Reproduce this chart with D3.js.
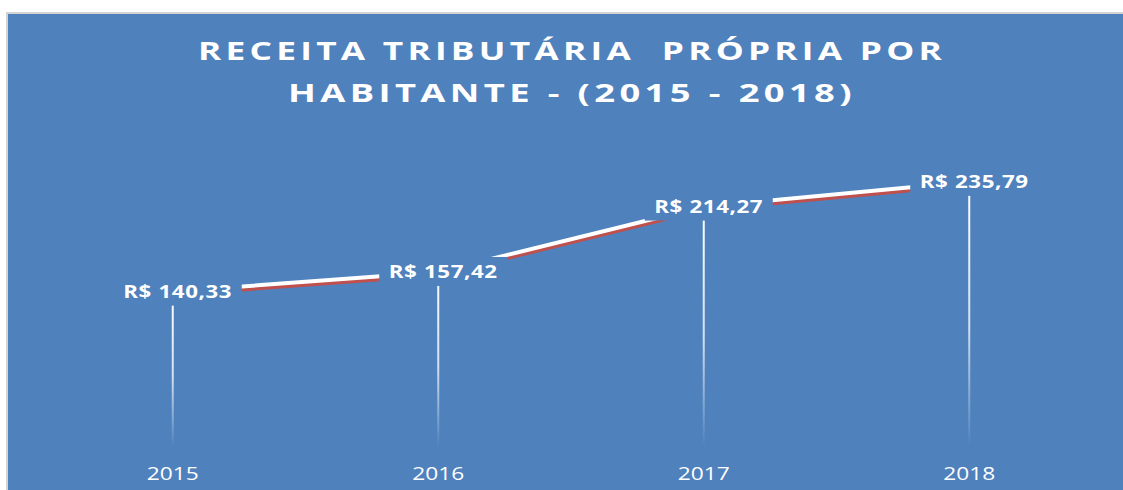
<!DOCTYPE html>
<html>
<head>
<meta charset="utf-8">
<script src="https://cdn.jsdelivr.net/npm/d3@7"></script>
<style>
  body { margin: 0; background: #fff; }
  svg { display: block; }
</style>
</head>
<body>
<div id="chart"></div>
<script>
// data
var years = ["2015", "2016", "2017", "2018"];
var values = [140.33, 157.42, 214.27, 235.79];
var valueLabels = ["R$ 140,33", "R$ 157,42", "R$ 214,27", "R$ 235,79"];
var titleLines = ["RECEITA TRIBUTÁRIA  PRÓPRIA POR", "HABITANTE - (2015 - 2018)"];

var W = 1123, H = 490;
var bg = "#4f81bd";

var svg = d3.select("#chart")
    .append("svg")
    .attr("width", W)
    .attr("height", H);

// chart area with thin grey frame
svg.append("rect")
    .attr("x", 7).attr("y", 13)
    .attr("width", W).attr("height", H)
    .attr("fill", bg)
    .attr("stroke", "#d4d4d4")
    .attr("stroke-width", 2);

// title (the original is stretched wide, so fit glyphs + spacing)
svg.selectAll(".title")
    .data(titleLines)
    .enter().append("text")
    .attr("class", "title")
    .attr("x", 572)
    .attr("y", function (d, i) { return 60 + i * 42; })
    .attr("text-anchor", "middle")
    .attr("textLength", function (d, i) { return i == 0 ? 748 : 568; })
    .attr("lengthAdjust", "spacingAndGlyphs")
    .style("white-space", "pre")
    .style("font-family", "'Open Sans', sans-serif")
    .style("font-weight", "bold")
    .style("font-size", "25px")
    .style("letter-spacing", "3px")
    .style("fill", "#fff")
    .text(function (d) { return d; });

// scales
var x = d3.scaleBand().domain(years).range([40, 1102]);
var y = d3.scaleLinear().domain([0, 300]).range([453, 108]);

var cx = function (d, i) { return x(years[i]) + x.bandwidth() / 2; };

var defs = svg.append("defs");
var grad = defs.append("linearGradient")
    .attr("id", "dropfade")
    .attr("gradientUnits", "objectBoundingBox")
    .attr("x1", 0).attr("y1", 0).attr("x2", 0).attr("y2", 1);
grad.append("stop").attr("offset", "0%").attr("stop-color", "#fff").attr("stop-opacity", 1);
grad.append("stop").attr("offset", "55%").attr("stop-color", "#fff").attr("stop-opacity", 0.75);
grad.append("stop").attr("offset", "100%").attr("stop-color", "#fff").attr("stop-opacity", 0);

// drop lines (thin rects so the gradient works)
svg.selectAll(".drop")
    .data(values)
    .enter().append("rect")
    .attr("class", "drop")
    .attr("x", function (d, i) { return cx(d, i) - 1; })
    .attr("y", function (d) { return y(d); })
    .attr("width", 2)
    .attr("height", function (d) { return y(0) - 6 - y(d); })
    .attr("fill", "url(#dropfade)");

// line: red shadow under white stroke
var line = d3.line()
    .x(function (d, i) { return cx(d, i); })
    .y(function (d) { return y(d); });

svg.append("path")
    .datum(values)
    .attr("d", line)
    .attr("transform", "translate(0,3)")
    .attr("fill", "none")
    .attr("stroke", "#c0504d")
    .attr("stroke-width", 4);

svg.append("path")
    .datum(values)
    .attr("d", line)
    .attr("fill", "none")
    .attr("stroke", "#fff")
    .attr("stroke-width", 4);

// data labels with a background box that hides the lines
var lbl = svg.selectAll(".lbl")
    .data(values)
    .enter().append("g")
    .attr("class", "lbl")
    .attr("transform", function (d, i) { return "translate(" + (cx(d, i) + 5) + "," + y(d) + ")"; });

lbl.append("rect")
    .attr("x", -64).attr("y", -15)
    .attr("width", 128).attr("height", 29)
    .attr("fill", bg);

lbl.append("text")
    .attr("text-anchor", "middle")
    .attr("dy", "0.36em")
    .attr("textLength", 109)
    .attr("lengthAdjust", "spacingAndGlyphs")
    .style("font-family", "'Open Sans', sans-serif")
    .style("font-weight", "bold")
    .style("font-size", "18px")
    .style("letter-spacing", "0.5px")
    .style("fill", "#fff")
    .text(function (d, i) { return valueLabels[i]; });

// category axis labels
var xAxis = svg.append("g")
    .attr("transform", "translate(0," + 452 + ")")
    .call(d3.axisBottom(x).tickSize(0).tickPadding(15));
xAxis.select(".domain").remove();
xAxis.selectAll("text")
    .attr("textLength", 52)
    .attr("lengthAdjust", "spacingAndGlyphs")
    .style("font-family", "'Open Sans', sans-serif")
    .style("font-size", "18px")
    .style("fill", "#fff");
</script>
</body>
</html>
